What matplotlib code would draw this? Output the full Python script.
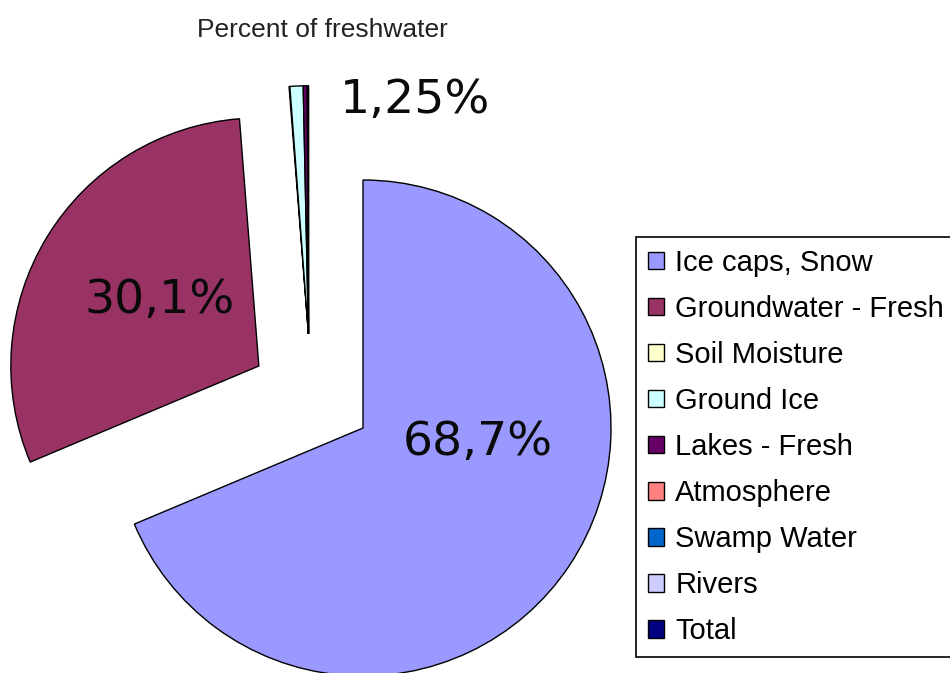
import matplotlib.pyplot as plt

# Share of the world's freshwater by source
categories = ['Ice caps, Snow', 'Groundwater - Fresh', 'Soil Moisture', 'Ground Ice',
              'Lakes - Fresh', 'Atmosphere', 'Swamp Water', 'Rivers', 'Total']
values = [68.7, 30.1, 0.05, 0.86, 0.26, 0.04, 0.03, 0.006, 0.0]
colors = ['#9999FF', '#993366', '#FFFFCC', '#CCFFFF', '#660066',
          '#FF8080', '#0066CC', '#CCCCFF', '#000080']

# how far each slice is pulled out of the pie, in units of the radius
shift_ground = (-0.42, 0.25)
shift_small = (-0.22, 0.38)

fig = plt.figure(figsize=(9.5, 6.73), dpi=100)
ax = fig.add_axes([0, 0, 1, 1])

cx, cy, r = 363, 245, 248
wedges, _ = ax.pie(values, colors=colors, startangle=90, counterclock=False,
                   center=(cx, cy), radius=r,
                   wedgeprops=dict(edgecolor='black', linewidth=1))

for i, w in enumerate(wedges):
    if i == 1:
        w.set_center((cx + shift_ground[0] * r, cy + shift_ground[1] * r))
    elif i >= 2:
        w.set_center((cx + shift_small[0] * r, cy + shift_small[1] * r))

ax.set_xlim(0, 950)
ax.set_ylim(0, 673)
ax.axis('off')

def pct(v, nd=1):
    return f'{v:.{nd}f}%'.replace('.', ',')

lbl = dict(fontsize=34, family='DejaVu Sans', color='#0a0a0a', va='center')
ax.text(478, 673 - 443, pct(values[0]), ha='center', **lbl)
ax.text(160, 673 - 300, pct(values[1]), ha='center', **lbl)
ax.text(340, 673 - 100, pct(sum(values[2:]), 2), ha='left', **lbl)

fig.text(322 / 950, 1 - 30 / 673, 'Percent of freshwater', ha='center', va='center',
         fontsize=19, family='Liberation Sans', color='#222222')

leg = ax.legend(wedges, categories, loc='upper left',
                bbox_to_anchor=(636 / 950, 1 - 237 / 673), bbox_transform=fig.transFigure,
                prop=dict(family='Liberation Sans', size=21),
                fancybox=False, edgecolor='black', framealpha=1,
                handlelength=0.55, handleheight=0.55, handletextpad=0.4,
                borderpad=0.4, borderaxespad=0, labelspacing=0.62)
leg.get_frame().set_linewidth(1.2)

fig.savefig('out.png', dpi=100)
